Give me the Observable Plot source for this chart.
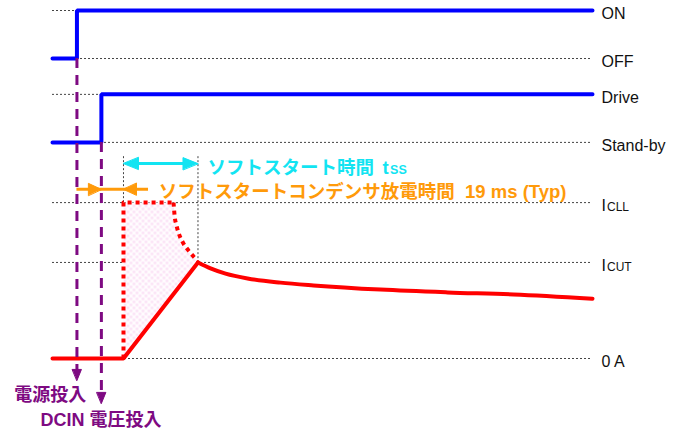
<!DOCTYPE html>
<html><head><meta charset="utf-8">
<script src="https://cdn.jsdelivr.net/npm/d3@7"></script>
<script src="https://cdn.jsdelivr.net/npm/@observablehq/plot@0.6"></script>
<style>
body{margin:0;background:#fff}
#chart svg{display:block;background:linear-gradient(to right,#fafafa 593px,#fff 593px)}
</style></head><body><div id="chart"></div>
<script>
// ---- time axis (ms, relative to power-on) ----
const tStart = -21, tPower = 0, tDcin = 21, tSoftStart = 40, tSoftEnd = 104, tEnd = 443;
// ---- signal levels (arbitrary vertical units) ----
const levelKeys   = ["ON", "OFF", "Drive", "Standby", "ICLL", "ICUT", "ZERO"];
const levelValues = [100, 86.2, 75.9, 62.1, 44.8, 27.6, 0];
const levelMain   = ["ON", "OFF", "Drive", "Stand-by", "I", "I", "0 A"];
const levelSub    = ["", "", "", "", "CLL", "CUT", ""];
const L = Object.fromEntries(levelKeys.map((k, i) => [k, levelValues[i]]));

// current decay after soft start
const decayT = [104, 114.8, 127.7, 146.6, 174.9, 203.3, 260.9, 318.5, 375.2, 443];
const decayI = [27.6, 25.9, 24.4, 23.0, 21.8, 21.0, 19.8, 19.0, 18.4, 17.2];
// current-limit (dotted) envelope: straight part, then curved fall
const limitT = [40, 40, 83.0];
const limitI = [0, 44.8, 44.8];
const limitCurveT = [83.0, 83.9, 85.6, 88.2, 91.6, 95.9, 101.9];
const limitCurveI = [44.8, 41.1, 38.2, 35.3, 33.0, 31.0, 28.7];

// annotation levels
const ssArrowY = 56.0, dischArrowY = 48.6, dischLineStart = 0, dischLineEnd = 61.5;
const guideTop = 58.0;
const powerArrowTip = -6.3, dcinArrowTip = -12.9;

const texts = {
  ss: "ソフトスタート時間", t: "t", ssSub: "SS",
  disch: "ソフトスタートコンデンサ放電時間  19 ms (Typ)",
  power: "電源投入", dcin: "DCIN 電圧投入"
};
const textPos = {
  ss: [112.2, 52.9], t: [262.6, 52.9], disch: [70.3, 46.1],
  power: [-23, -12.1], dcin: [20.6, -19.4]
};

// ---- build series ----
const pts = (xs, ys) => xs.map((x, i) => ({x, y: ys[i]}));
const powerSig = pts([tStart, tPower, tPower, tEnd], [L.OFF, L.OFF, L.ON, L.ON]);
const driveSig = pts([tStart, tDcin, tDcin, tEnd], [L.Standby, L.Standby, L.Drive, L.Drive]);
const rise = pts([tStart, tSoftStart, tSoftEnd], [0, 0, L.ICUT]);
const decay = pts(decayT, decayI);
const limit = pts(limitT, limitI);
const limitCurve = pts(limitCurveT, limitCurveI);
const fillPoly = [...limit, ...limitCurve.slice(1), {x: tSoftEnd, y: L.ICUT}, {x: tSoftStart, y: 0}];
const levels = levelKeys.map((k, i) => ({k, y: levelValues[i], main: levelMain[i], sub: levelSub[i]}));

const FONT = "'Liberation Sans', Arial, 'Noto Sans CJK JP', sans-serif";
const CYAN = "#12e4f2", ORANGE = "#ff9a0a", PURPLE = "#7e0a82", RED = "#ff0000", BLUE = "#0000ff";

const head = (len, half) => ({
  draw(ctx, l) { ctx.moveTo(0, -l); ctx.lineTo(-half, -l + len); ctx.lineTo(half, -l + len); ctx.closePath(); }
});
const arrowHead = (data, color, len, half) => Plot.vector(data, {
  x: "x", y: "y", rotate: "r", length: len, anchor: "end",
  shape: head(len, half), fill: color, stroke: color, strokeWidth: 1
});

const chart = Plot.plot({
  width: 677, height: 430,
  marginLeft: 52, marginRight: 85, marginTop: 10, marginBottom: 72,
  x: {axis: null, domain: [tStart, tEnd]},
  y: {axis: null, domain: [0, 100]},
  style: {fontFamily: FONT, background: "transparent", overflow: "visible"},
  marks: [
    // reference dotted lines
    Plot.ruleY(levels, {y: "y", x1: tStart, x2: tEnd, stroke: "#444", strokeWidth: 1, strokeDasharray: "2,2"}),
    Plot.ruleX([tSoftStart], {y1: guideTop, y2: L.ICLL, stroke: "#444", strokeWidth: 1, strokeDasharray: "2,2"}),
    Plot.ruleX([tSoftEnd], {y1: guideTop, y2: L.ICUT, stroke: "#444", strokeWidth: 1, strokeDasharray: "2,2"}),
    // pink area
    Plot.line(fillPoly, {x: "x", y: "y", fill: "url(#pinkdots)", stroke: "none"}),
    // current limit dotted
    Plot.line(limit, {x: "x", y: "y", stroke: RED, strokeWidth: 4, strokeDasharray: "4,4", strokeLinecap: "butt"}),
    Plot.line(limitCurve, {x: "x", y: "y", curve: "monotone-x", stroke: RED, strokeWidth: 4, strokeDasharray: "4,4", strokeLinecap: "butt"}),
    // current
    Plot.line(rise, {x: "x", y: "y", stroke: RED, strokeWidth: 4, strokeLinejoin: "miter"}),
    Plot.line(decay, {x: "x", y: "y", curve: "monotone-x", stroke: RED, strokeWidth: 4}),
    // logic signals
    Plot.line(powerSig, {x: "x", y: "y", stroke: BLUE, strokeWidth: 4, strokeLinejoin: "miter"}),
    Plot.line(driveSig, {x: "x", y: "y", stroke: BLUE, strokeWidth: 4, strokeLinejoin: "miter"}),
    // purple dashed events
    Plot.ruleX([{x: tPower, a: L.OFF, b: powerArrowTip + 2}, {x: tDcin, a: L.Standby, b: dcinArrowTip + 2}],
      {x: "x", y1: "a", y2: "b", stroke: PURPLE, strokeWidth: 3, strokeDasharray: "10,7"}),
    arrowHead([{x: tPower, y: powerArrowTip, r: 180}, {x: tDcin, y: dcinArrowTip, r: 180}], PURPLE, 11, 4.5),
    // cyan soft-start arrow
    Plot.ruleY([ssArrowY], {x1: tSoftStart + 3, x2: tSoftEnd - 3, stroke: CYAN, strokeWidth: 3}),
    arrowHead([{x: tSoftStart, y: ssArrowY, r: -90}, {x: tSoftEnd, y: ssArrowY, r: 90}], CYAN, 15, 6),
    // orange discharge arrows
    Plot.ruleY([dischArrowY], {x1: dischLineStart, x2: dischLineEnd, stroke: ORANGE, strokeWidth: 3}),
    arrowHead([{x: tDcin, y: dischArrowY, r: 90}, {x: tSoftStart, y: dischArrowY, r: -90}], ORANGE, 13, 6),
    // texts
    Plot.text([texts.ss], {x: textPos.ss[0], y: textPos.ss[1], textAnchor: "start", lineAnchor: "bottom", fill: CYAN, fontSize: 18.5, fontWeight: "bold"}),
    Plot.text([texts.t], {x: textPos.t[0], y: textPos.t[1], textAnchor: "start", lineAnchor: "bottom", fill: CYAN, fontSize: 18.5, fontWeight: "bold"}),
    Plot.text([texts.ssSub], {x: textPos.t[0], y: textPos.t[1], dx: 7.5, textAnchor: "start", lineAnchor: "bottom", fill: CYAN, fontSize: 12.5, fontWeight: "bold"}),
    Plot.text([texts.disch], {x: textPos.disch[0], y: textPos.disch[1], textAnchor: "start", lineAnchor: "bottom", fill: ORANGE, fontSize: 18.5, fontWeight: "bold"}),
    Plot.text([texts.power], {x: textPos.power[0], y: textPos.power[1], textAnchor: "middle", lineAnchor: "bottom", fill: PURPLE, fontSize: 18, fontWeight: "bold"}),
    Plot.text([texts.dcin], {x: textPos.dcin[0], y: textPos.dcin[1], textAnchor: "middle", lineAnchor: "bottom", fill: PURPLE, fontSize: 18, fontWeight: "bold"}),
    // level labels
    Plot.text(levels, {x: tEnd, y: "y", text: "main", dx: 9, dy: 8.5, textAnchor: "start", lineAnchor: "bottom", fill: "#111", fontSize: 16}),
    Plot.text(levels.filter(d => d.sub), {x: tEnd, y: "y", text: "sub", dx: 14.5, dy: 8.5, textAnchor: "start", lineAnchor: "bottom", fill: "#111", fontSize: 12})
  ]
});

const ns = "http://www.w3.org/2000/svg";
const defs = document.createElementNS(ns, "defs");
defs.innerHTML = `<pattern id="pinkdots" width="6" height="6" patternUnits="userSpaceOnUse">
  <rect width="6" height="6" fill="#fffcfe"/>
  <circle cx="1.5" cy="1.5" r="1.4" fill="#fbe1f6"/><circle cx="4.5" cy="4.5" r="1.4" fill="#fbe1f6"/></pattern>`;
chart.prepend(defs);
document.getElementById("chart").append(chart);
</script></body></html>
